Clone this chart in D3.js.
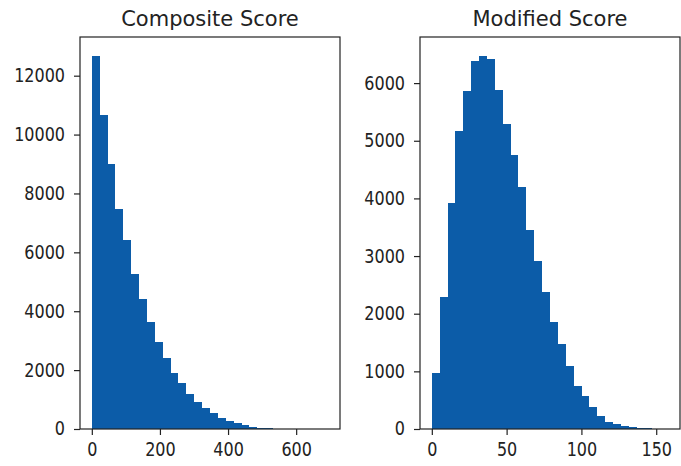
<!DOCTYPE html>
<html>
<head>
<meta charset="utf-8">
<script src="https://cdn.jsdelivr.net/npm/d3@7"></script>
<style>
  html, body { margin: 0; padding: 0; background: #fff; }
  svg { display: block; }
  text { font-family: "DejaVu Sans", sans-serif; fill: #222; }
</style>
</head>
<body>
<svg id="chart" width="681" height="466"></svg>
<script>
// ---- Data ----
const compositeTitle = "Composite Score";
const compositeRange = [0, 694];
const compositeCounts = [12680, 10660, 9010, 7480, 6430, 5280, 4420, 3630, 2950, 2400,
                         1910, 1550, 1190, 930, 700, 555, 390, 275, 195, 125,
                         80, 50, 32, 12, 6, 3, 2, 1, 1, 1];
const compositeXTicks = [0, 200, 400, 600];
const compositeYTicks = [0, 2000, 4000, 6000, 8000, 10000, 12000];

const modifiedTitle = "Modified Score";
const modifiedRange = [0, 158];
const modifiedCounts = [975, 2285, 3915, 5170, 5855, 6385, 6476, 6410, 5885, 5285,
                        4757, 4193, 3450, 2920, 2384, 1863, 1476, 1099, 752, 578,
                        387, 231, 127, 87, 50, 30, 20, 14, 6, 3];
const modifiedXTicks = [0, 50, 100, 150];
const modifiedYTicks = [0, 1000, 2000, 3000, 4000, 5000, 6000];

const barColor = "#0c5ca8";

const svg = d3.select("#chart");

function panel(opts) {
  const { left, right, top, bottom, title, range, counts, xTicks, yTicks } = opts;
  const n = counts.length;
  const w = (range[1] - range[0]) / n;
  const bins = counts.map((c, i) => ({ x0: range[0] + i * w, x1: range[0] + (i + 1) * w, c }));
  const span = range[1] - range[0];
  const x = d3.scaleLinear().domain([range[0] - 0.05 * span, range[1] + 0.05 * span]).range([left, right]);
  const ymax = d3.max(counts) * 1.05;
  const y = d3.scaleLinear().domain([0, ymax]).range([bottom, top]);

  const g = svg.append("g");
  g.selectAll("rect.bar").data(bins).enter().append("rect")
    .attr("class", "bar")
    .attr("x", d => x(d.x0))
    .attr("width", d => x(d.x1) - x(d.x0))
    .attr("y", d => y(d.c))
    .attr("height", d => y(0) - y(d.c))
    .attr("fill", barColor)
    .attr("shape-rendering", "crispEdges");

  const xAxis = d3.axisBottom(x).tickValues(xTicks).tickSize(6).tickPadding(6).tickFormat(d3.format("d"));
  const yAxis = d3.axisLeft(y).tickValues(yTicks).tickSize(6).tickPadding(9).tickFormat(d3.format("d"));

  const gx = g.append("g").attr("transform", `translate(0,${bottom})`).call(xAxis);
  const gy = g.append("g").attr("transform", `translate(${left},0)`).call(yAxis);
  [gx, gy].forEach(a => {
    a.select(".domain").remove();
    a.selectAll(".tick line").attr("stroke", "#222").attr("stroke-width", 1.2);
    a.selectAll(".tick text").attr("font-size", 16).attr("fill", "#222")
      .attr("transform", "scale(1,1.17)")
      .style("font-family", "'DejaVu Sans', sans-serif");
  });

  g.append("rect")
    .attr("x", left).attr("y", top)
    .attr("width", right - left).attr("height", bottom - top)
    .attr("fill", "none").attr("stroke", "#222").attr("stroke-width", 1.2);

  g.append("text")
    .attr("x", (left + right) / 2).attr("y", 26)
    .attr("text-anchor", "middle")
    .attr("font-size", 21)
    .text(title);
}

panel({ left: 80, right: 340, top: 37, bottom: 429, title: compositeTitle,
        range: compositeRange, counts: compositeCounts, xTicks: compositeXTicks, yTicks: compositeYTicks });
panel({ left: 420, right: 680, top: 37, bottom: 429, title: modifiedTitle,
        range: modifiedRange, counts: modifiedCounts, xTicks: modifiedXTicks, yTicks: modifiedYTicks });
</script>
</body>
</html>
